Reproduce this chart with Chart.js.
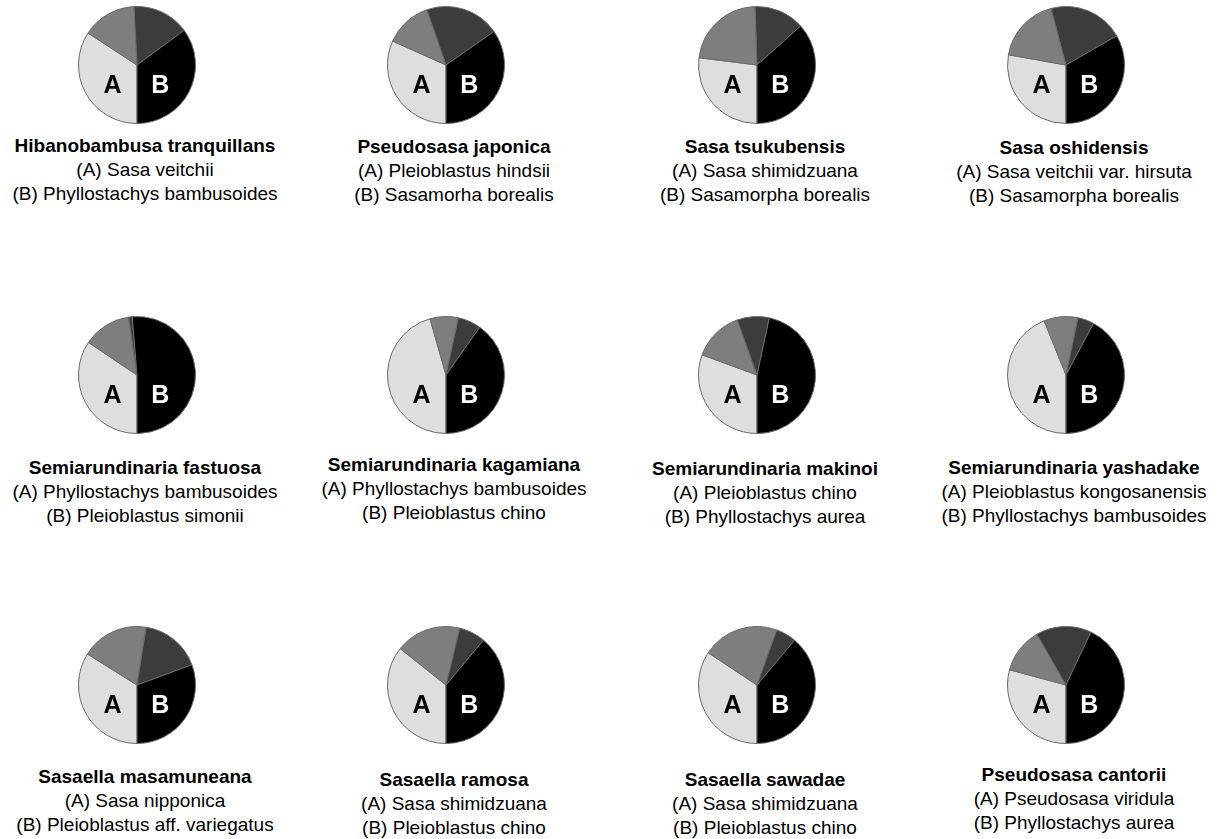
<!DOCTYPE html>
<html lang="en">
<head>
    <meta charset="UTF-8">
    <title>Bamboo hybrids</title>
    <script src="https://cdn.jsdelivr.net/npm/chart.js"></script>
    <style>
        body { margin: 0; background: #fff; font-family: "Liberation Sans", Arial, sans-serif; }
        #page { position: relative; width: 1217px; height: 839px; overflow: hidden; }
        .pie { position: absolute; }
        .cap { position: absolute; width: 320px; text-align: center; font-size: 19px; line-height: 24px; color: #000; }
        .cap b { font-weight: bold; }
    </style>
</head>
<body>
<div id="page"></div>
<script>
    // names of the hybrids and their parents
    const hybrids = [
        'Hibanobambusa tranquillans', 'Pseudosasa japonica', 'Sasa tsukubensis', 'Sasa oshidensis',
        'Semiarundinaria fastuosa', 'Semiarundinaria kagamiana', 'Semiarundinaria makinoi', 'Semiarundinaria yashadake',
        'Sasaella masamuneana', 'Sasaella ramosa', 'Sasaella sawadae', 'Pseudosasa cantorii'
    ];
    const parentA = [
        'Sasa veitchii', 'Pleioblastus hindsii', 'Sasa shimidzuana', 'Sasa veitchii var. hirsuta',
        'Phyllostachys bambusoides', 'Phyllostachys bambusoides', 'Pleioblastus chino', 'Pleioblastus kongosanensis',
        'Sasa nipponica', 'Sasa shimidzuana', 'Sasa shimidzuana', 'Pseudosasa viridula'
    ];
    const parentB = [
        'Phyllostachys bambusoides', 'Sasamorha borealis', 'Sasamorpha borealis', 'Sasamorpha borealis',
        'Pleioblastus simonii', 'Pleioblastus chino', 'Phyllostachys aurea', 'Phyllostachys bambusoides',
        'Pleioblastus aff. variegatus', 'Pleioblastus chino', 'Pleioblastus chino', 'Phyllostachys aurea'
    ];

    // slice shares in percent (A, shared grey, other grey, B)
    const shareA    = [34.2, 31.7, 27.0, 27.8, 34.4, 45.6, 30.6, 43.9, 33.9, 35.7, 34.3, 29.2];
    const shareMid  = [15.0, 13.0, 22.5, 18.1, 13.3,  7.8, 13.9,  9.4, 18.6, 18.1, 21.2, 12.5];
    const shareDark = [15.7, 20.6, 13.9, 20.8,  1.0,  6.4,  8.9,  4.5, 16.9,  7.3,  5.6, 15.3];
    const shareB    = [35.1, 34.7, 36.6, 33.3, 51.3, 40.2, 46.6, 42.2, 30.6, 38.9, 38.9, 43.0];

    const colsX = [137, 446, 757, 1066];
    const rowsY = [65, 375, 685];
    // top of each caption block, per panel
    const capTop = [134, 135, 135, 136, 456, 453, 457, 456, 765, 768, 768, 763];
    const R = 58;

    const sliceColors = ['#dedede', '#7e7e7e', '#3c3c3c', '#000000'];

    // draws the A / B letters inside each pie
    const abLabels = {
        id: 'abLabels',
        afterDatasetsDraw(chart) {
            const ctx = chart.ctx;
            const arc = chart.getDatasetMeta(0).data[0];
            const cx = arc.x, cy = arc.y, r = arc.outerRadius;
            ctx.save();
            ctx.font = 'bold 25px "Liberation Sans", Arial, sans-serif';
            ctx.textAlign = 'center';
            ctx.textBaseline = 'middle';
            ctx.fillStyle = '#000';
            ctx.fillText('A', cx - r * 0.42, cy + r * 0.36);
            ctx.fillStyle = '#fff';
            ctx.fillText('B', cx + r * 0.40, cy + r * 0.36);
            ctx.restore();
        }
    };

    const page = document.getElementById('page');

    for (let i = 0; i < hybrids.length; i++) {
        const col = i % 4, row = Math.floor(i / 4);
        const cx = colsX[col], cy = rowsY[row];

        const canvas = document.createElement('canvas');
        canvas.className = 'pie';
        canvas.width = 2 * R + 4;
        canvas.height = 2 * R + 4;
        canvas.style.left = (cx - R - 2) + 'px';
        canvas.style.top = (cy - R - 2) + 'px';
        page.appendChild(canvas);

        new Chart(canvas, {
            type: 'pie',
            data: {
                labels: ['A', 'mid', 'dark', 'B'],
                datasets: [{
                    data: [shareA[i], shareMid[i], shareDark[i], shareB[i]],
                    backgroundColor: sliceColors,
                    borderColor: '#6a6a6a',
                    borderWidth: 1
                }]
            },
            options: {
                responsive: false,
                animation: false,
                rotation: 180,
                layout: { padding: 1 },
                plugins: { legend: { display: false }, tooltip: { enabled: false } }
            },
            plugins: [abLabels]
        });

        const cap = document.createElement('div');
        cap.className = 'cap';
        cap.style.left = (cx - 160 + 8) + 'px';
        cap.style.top = capTop[i] + 'px';
        cap.innerHTML = '<b>' + hybrids[i] + '</b><br>(A) ' + parentA[i] + '<br>(B) ' + parentB[i];
        page.appendChild(cap);
    }
</script>
</body>
</html>
